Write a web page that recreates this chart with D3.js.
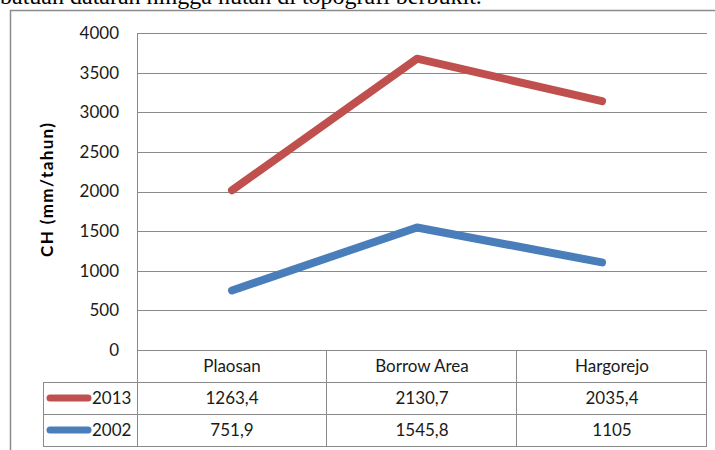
<!DOCTYPE html>
<html>
<head>
<meta charset="utf-8">
<script src="https://cdn.jsdelivr.net/npm/d3@7"></script>
<style>
	body { margin: 0; background: #fff; }
	svg { display: block; }
</style>
</head>
<body>
<script>
// values
const categories = ["Plaosan", "Borrow Area", "Hargorejo"];
const seriesNames = ["2013", "2002"];
const values2013 = [1263.4, 2130.7, 2035.4];
const values2002 = [751.9, 1545.8, 1105];
const labels2013 = ["1263,4", "2130,7", "2035,4"];
const labels2002 = ["751,9", "1545,8", "1105"];
const yTicks = [0, 500, 1000, 1500, 2000, 2500, 3000, 3500, 4000];

const width = 715;
const height = 450;
const plotLeft = 137;
const plotRight = 707;
const plotTop = 33;
const plotBottom = 350;
const rowHeight = 32;
const tableLeft = 43;
const font = "Lato, 'Open Sans', sans-serif";

const svg = d3.select("body")
	.append("svg")
	.attr("width", width)
	.attr("height", height);

// cut-off line of the document text above the chart
svg.append("text")
	.attr("x", 0)
	.attr("y", 4)
	.attr("font-family", "'Liberation Serif', serif")
	.attr("font-size", 24)
	.text("batuan dataran hingga hutan di topografi berbukit.");

// chart frame
svg.append("rect")
	.attr("x", 10.5)
	.attr("y", 10.5)
	.attr("width", 720)
	.attr("height", 460)
	.attr("fill", "none")
	.attr("stroke", "#8c8c8c")
	.attr("stroke-width", 1.5);

let yScale = d3.scaleLinear().domain([0, 4000]).range([plotBottom, plotTop]);
let xBand = d3.scaleBand().domain(categories).range([plotLeft, plotRight]);
let xPoint = d3.scalePoint().domain(categories).range([232, 602]);

// grid lines
svg.append("g")
	.selectAll("line")
	.data(yTicks)
	.enter()
	.append("line")
	.attr("x1", plotLeft)
	.attr("x2", plotRight)
	.attr("y1", (d) => Math.round(yScale(d)) + 0.5)
	.attr("y2", (d) => Math.round(yScale(d)) + 0.5)
	.attr("stroke", "#8a8a8a")
	.attr("stroke-width", 1);

let yAxis = d3.axisLeft(yScale)
	.tickValues(yTicks)
	.tickFormat(d3.format("d"))
	.tickSize(0)
	.tickPadding(18);
let yAxisG = svg.append("g")
	.attr("transform", "translate(" + plotLeft + ",0)")
	.call(yAxis);
yAxisG.select(".domain").remove();
yAxisG.selectAll("text")
	.attr("font-family", font)
	.attr("font-size", 17)
	.attr("fill", "#1a1a1a");

svg.append("text")
	.attr("transform", "translate(53,190) rotate(-90)")
	.attr("text-anchor", "middle")
	.attr("font-family", font)
	.attr("font-size", 17)
	.attr("font-weight", "bold")
	.attr("textLength", 134)
	.attr("lengthAdjust", "spacing")
	.text("CH (mm/tahun)");

// stacked line: 2013 sits on top of 2002
let stacked = values2002.map((v, i) => v + values2013[i]);

let line = d3.line()
	.x((d, i) => xPoint(categories[i]))
	.y((d) => yScale(d));

let lines = [
	{ name: "2013", values: stacked, color: "#c0504d" },
	{ name: "2002", values: values2002, color: "#4a7ebb" },
];

svg.append("g")
	.selectAll("path")
	.data(lines)
	.enter()
	.append("path")
	.attr("d", (d) => line(d.values))
	.attr("fill", "none")
	.attr("stroke", (d) => d.color)
	.attr("stroke-width", 8)
	.attr("stroke-linecap", "round")
	.attr("stroke-linejoin", "round");

// data table
let table = svg.append("g").attr("fill", "none").attr("stroke", "#8a8a8a");
let tableBottom = plotBottom + rowHeight * 3;
table.append("line")
	.attr("x1", plotLeft + 0.5).attr("x2", plotLeft + 0.5)
	.attr("y1", plotTop).attr("y2", tableBottom);
categories.forEach((c) => {
	let x = Math.round(xBand(c) + xBand.bandwidth()) - 0.5;
	table.append("line")
		.attr("x1", x).attr("x2", x)
		.attr("y1", plotBottom).attr("y2", tableBottom);
});
table.append("line")
	.attr("x1", tableLeft + 0.5).attr("x2", tableLeft + 0.5)
	.attr("y1", plotBottom + rowHeight).attr("y2", tableBottom);
[1, 2, 3].forEach((r) => {
	let y = plotBottom + rowHeight * r + 0.5;
	table.append("line")
		.attr("x1", tableLeft).attr("x2", plotRight)
		.attr("y1", y).attr("y2", y);
});

let rows = [
	{ texts: categories, y: plotBottom + rowHeight / 2 },
	{ texts: labels2013, y: plotBottom + rowHeight * 1.5 },
	{ texts: labels2002, y: plotBottom + rowHeight * 2.5 },
];
rows.forEach((row) => {
	svg.append("g")
		.selectAll("text")
		.data(row.texts)
		.enter()
		.append("text")
		.attr("x", (d, i) => xBand(categories[i]) + xBand.bandwidth() / 2)
		.attr("y", row.y)
		.attr("dy", "0.35em")
		.attr("text-anchor", "middle")
		.attr("font-family", font)
		.attr("font-size", 17)
		.attr("fill", "#1a1a1a")
		.text((d) => d);
});

// legend keys inside the table
lines.forEach((d, i) => {
	let y = plotBottom + rowHeight * (1.5 + i);
	svg.append("line")
		.attr("x1", 50).attr("x2", 88)
		.attr("y1", y).attr("y2", y)
		.attr("stroke", d.color)
		.attr("stroke-width", 7)
		.attr("stroke-linecap", "round");
	svg.append("text")
		.attr("x", 92)
		.attr("y", y)
		.attr("dy", "0.35em")
		.attr("font-family", font)
		.attr("font-size", 17)
		.attr("fill", "#1a1a1a")
		.text(seriesNames[i]);
});
</script>
</body>
</html>
